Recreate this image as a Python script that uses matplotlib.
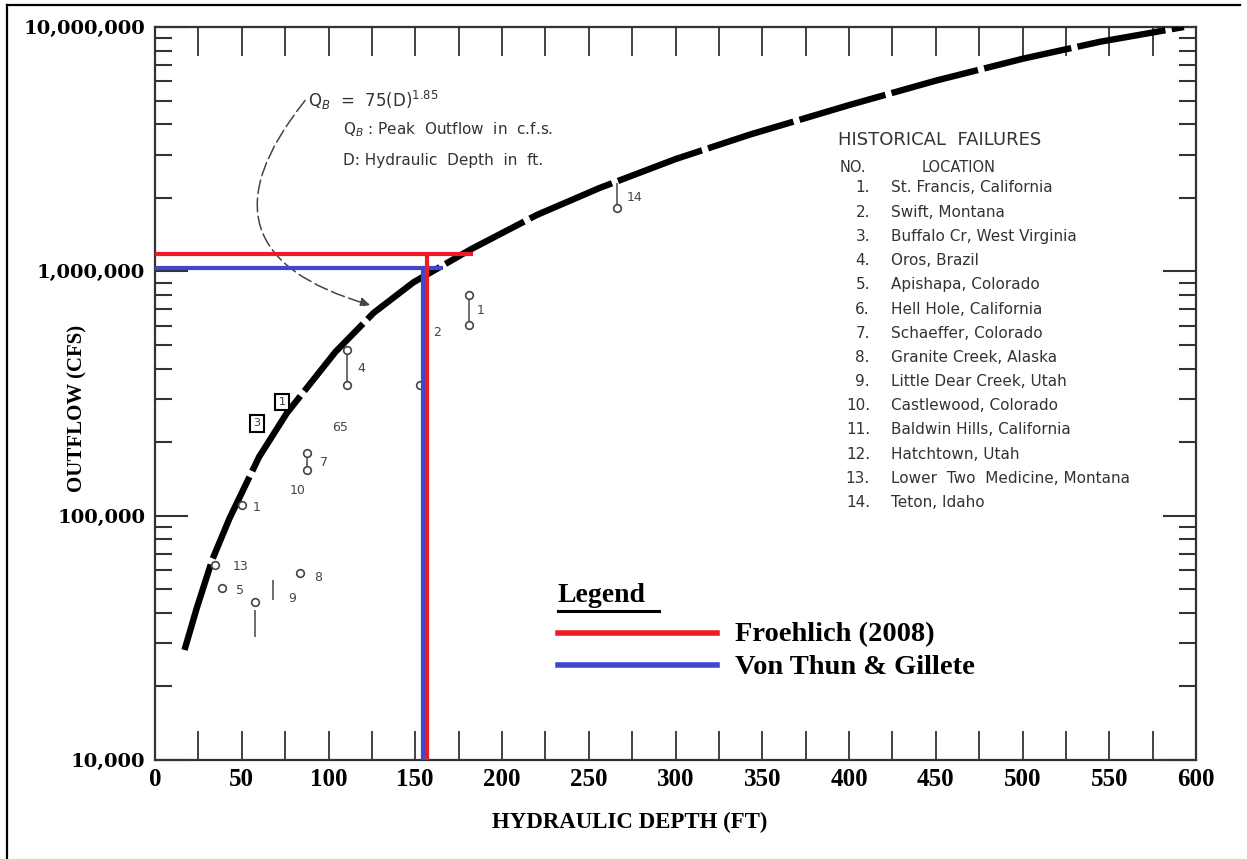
import matplotlib
matplotlib.use("Agg")
import matplotlib.pyplot as plt
from matplotlib.lines import Line2D
from matplotlib.ticker import FixedLocator, MultipleLocator, LogLocator, NullFormatter

# envelope curve Q_B = 75 D^1.85
curve_depth = [17, 24, 33, 43, 60, 76, 104, 126, 149, 182, 220, 256, 300, 343, 400, 450, 500,
               545, 593]
curve_outflow = [28.2e3, 41.7e3, 66e3, 97.7e3, 174e3, 263e3, 468e3, 676e3, 902e3, 1.23e6,
                 1.70e6, 2.19e6, 2.88e6, 3.63e6, 4.79e6, 6.03e6, 7.41e6, 8.71e6, 10.0e6]

# dam break readings (depth of 155 ft)
method_names = ["Froehlich (2008)", "Von Thun & Gillete"]
method_depth = [157, 154.5]
method_outflow = [1.18e6, 1.03e6]
method_reach = [183, 166]
method_colors = ["#ed1c24", "#3f48cc"]

# historical failure observations
circ_depth = [266, 181, 181, 153, 110.6, 110.6, 87.6, 87.6, 83.6, 34.6, 38.6, 57.6, 50.1]
circ_outflow = [1.82e6, 8.0e5, 6.03e5, 3.43e5, 4.77e5, 3.43e5, 1.80e5, 1.54e5, 5.82e4,
                6.28e4, 5.06e4, 4.44e4, 1.11e5]
bar_depth = [266, 181, 110.6, 87.6, 68, 57.6]
bar_low = [1.82e6, 6.03e5, 3.43e5, 1.54e5, 4.52e4, 3.2e4]
bar_high = [2.3e6, 8.0e5, 4.77e5, 1.80e5, 5.46e4, 4.1e4]
tag_text = ["14", "1", "2", "4", "65", "7", "10", "1", "13", "5", "9", "8"]
tag_depth = [272, 185.5, 160.5, 116.9, 102, 95, 77.8, 56.5, 44.5, 46.5, 76.6, 91.5]
tag_outflow = [2.0e6, 6.9e5, 5.6e5, 4.0e5, 2.3e5, 1.65e5, 1.27e5, 1.08e5, 6.2e4, 4.95e4, 4.6e4, 5.6e4]
box_text = ["1", "3"]
box_depth = [73.2, 58.8]
box_outflow = [2.92e5, 2.39e5]

failure_names = ["St. Francis, California", "Swift, Montana", "Buffalo Cr, West Virginia",
                 "Oros, Brazil", "Apishapa, Colorado", "Hell Hole, California",
                 "Schaeffer, Colorado", "Granite Creek, Alaska", "Little Dear Creek, Utah",
                 "Castlewood, Colorado", "Baldwin Hills, California", "Hatchtown, Utah",
                 "Lower  Two  Medicine, Montana", "Teton, Idaho"]

y_ticks = [1e4, 1e5, 1e6, 1e7]
y_ticklabels = ["10,000", "100,000", "1,000,000", "10,000,000"]

W, H = 1247, 859
fig = plt.figure(figsize=(W / 100, H / 100), dpi=100)
fig.patch.set_facecolor("white")


def fx(x):
    return x / W


def fy(y):
    return 1 - y / H


ax = fig.add_axes([fx(155), fy(760), fx(1196) - fx(155), fy(27) - fy(760)])
ax.set_yscale("log")
ax.set_xlim(0, 600)
ax.set_ylim(1e4, 1e7)

ink = "#333333"
for s in ax.spines.values():
    s.set_color(ink)
    s.set_linewidth(1.6)

ax.xaxis.set_major_locator(MultipleLocator(50))
ax.xaxis.set_minor_locator(MultipleLocator(25))
ax.yaxis.set_major_locator(FixedLocator(y_ticks))
ax.yaxis.set_minor_locator(LogLocator(base=10, subs=range(2, 10)))
ax.yaxis.set_minor_formatter(NullFormatter())
ax.set_yticklabels(y_ticklabels)
ax.tick_params(axis="x", which="both", direction="in", top=True, length=21, width=1.3,
               color=ink, pad=6)
ax.tick_params(axis="y", which="major", direction="in", right=True, length=24, width=1.5,
               color=ink, pad=7)
ax.tick_params(axis="y", which="minor", direction="in", right=True, length=12, width=1.5,
               color=ink)
for lab in ax.get_xticklabels():
    lab.set_fontfamily("Liberation Serif")
    lab.set_fontweight("bold")
    lab.set_fontsize(18)
for lab in ax.get_yticklabels():
    lab.set_fontfamily("DejaVu Serif")
    lab.set_fontweight("bold")
    lab.set_fontsize(14)

ax.set_xlabel("HYDRAULIC DEPTH (FT)", family="Liberation Serif", fontweight="bold", fontsize=16.5)
ax.set_ylabel("OUTFLOW (CFS)", family="Liberation Serif", fontweight="bold", fontsize=15)
ax.xaxis.set_label_coords(0.456, -0.071)
ax.yaxis.set_label_coords(-0.0645, 0.48)

# envelope curve
ax.plot(curve_depth, curve_outflow, color="black", lw=4.6, dashes=(14, 1.0),
        dash_capstyle="butt", solid_joinstyle="round", zorder=3)

# observations
ax.vlines(bar_depth, bar_low, bar_high, color="#555555", lw=1.2, zorder=3)
ax.plot(circ_depth, circ_outflow, "o", mfc="white", mec="#444444", ms=5.5, mew=1.2, zorder=4)
for t, d, q in zip(tag_text, tag_depth, tag_outflow):
    ax.text(d, q, t, fontsize=9, color="#444444", va="center", ha="left")
for t, d, q in zip(box_text, box_depth, box_outflow):
    ax.text(d, q, t, fontsize=8, color="#333333", va="center", ha="center",
            bbox=dict(boxstyle="square,pad=0.3", fc="white", ec="black", lw=1.5))

# dam break readings
for name, d, q, reach, c in reversed(list(zip(method_names, method_depth, method_outflow,
                                               method_reach, method_colors))):
    ax.hlines(q, 0, reach, color=c, lw=3, zorder=5)
    ax.vlines(d, 1e4, q, color=c, lw=3, zorder=5)

# formula pointer
ax.annotate("", xy=(124, 7.28e5), xytext=(86.5, 5.0e6),
            arrowprops=dict(arrowstyle="-|>", connectionstyle="arc3,rad=0.75",
                            ls=(0, (9, 3)), color="#444444", lw=1.1,
                            shrinkA=0, shrinkB=0, mutation_scale=14))

txt = dict(color="#333333", va="center", ha="left")
fig.text(fx(308), fy(100), r"Q$_B$  =  75(D)$^{1.85}$", fontsize=12, **txt)
fig.text(fx(343), fy(130), r"Q$_B$ : Peak  Outflow  in  c.f.s.", fontsize=11, **txt)
fig.text(fx(343), fy(160), "D: Hydraulic  Depth  in  ft.", fontsize=11, **txt)

# historical failures table
fig.text(fx(838), fy(140), "HISTORICAL  FAILURES", fontsize=13, **txt)
fig.text(fx(840), fy(167), "NO.", fontsize=10.5, **txt)
fig.text(fx(922), fy(167), "LOCATION", fontsize=10.5, **txt)
for i, name in enumerate(failure_names):
    yy = 188 + 24.2 * i
    fig.text(fx(870), fy(yy), f"{i + 1}.", fontsize=11, color="#333333", va="center", ha="right")
    fig.text(fx(891), fy(yy), name, fontsize=11, **txt)

# legend
serif = dict(family="Liberation Serif", fontweight="bold", color="black", va="center")
fig.text(fx(558), fy(596), "Legend", fontsize=20, ha="left", **serif)
fig.add_artist(Line2D([fx(558), fx(659)], [fy(611), fy(611)], color="black", lw=2.2))
for name, c, yy in zip(method_names, method_colors, [633, 665]):
    fig.add_artist(Line2D([fx(558), fx(717)], [fy(yy), fy(yy)], color=c, lw=4))
    fig.text(fx(735), fy(yy + 2), name, fontsize=20.5, ha="left", **serif)

# page frame
fig.add_artist(Line2D([fx(7), fx(7)], [fy(5), 0], color="black", lw=1.6))
fig.add_artist(Line2D([fx(7), fx(1240)], [fy(5), fy(5)], color="black", lw=1.6))

fig.savefig("out.png", dpi=100)
